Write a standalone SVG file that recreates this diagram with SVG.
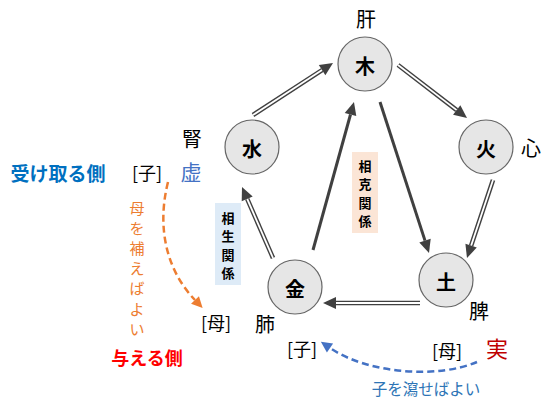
<svg xmlns="http://www.w3.org/2000/svg" width="541" height="403" viewBox="0 0 541 403">
<style>
text{font-family:"Noto Sans CJK JP","Noto Sans",sans-serif;text-anchor:middle;dominant-baseline:central}
.node circle{fill:#e6e6e6;stroke:#666;stroke-width:1.2}
.node text{font-size:20px;font-weight:bold;fill:#000}
.lbl{font-size:20px;fill:#000}
.br{font-size:18px;fill:#000}
.dblo{stroke:#404040;stroke-width:4.6;fill:none}
.dbli{stroke:#fff;stroke-width:1.8;fill:none}
.sol{stroke:#404040;stroke-width:3;fill:none}
.vt{font-size:13px;font-weight:bold;fill:#000}
</style>
<defs>
<marker id="ah" markerUnits="userSpaceOnUse" markerWidth="14" markerHeight="14" refX="0" refY="7" orient="auto" viewBox="0 0 14 14" overflow="visible"><path d="M0,1 L13,7 L0,13 z" fill="#404040"/></marker>
<marker id="ahO" markerUnits="userSpaceOnUse" markerWidth="12" markerHeight="12" refX="0" refY="6" orient="auto" viewBox="0 0 12 12" overflow="visible"><path d="M0,0.5 L11,6 L0,11.5 z" fill="#ed7d31"/></marker>
<marker id="ahB" markerUnits="userSpaceOnUse" markerWidth="12" markerHeight="12" refX="0" refY="6" orient="auto" viewBox="0 0 12 12" overflow="visible"><path d="M0,0.5 L11,6 L0,11.5 z" fill="#4472c4"/></marker>
</defs>

<g id="connectors">
  <path class="dblo" d="M253,115 L322.1,70.1"/><path class="dbli" d="M253,115 L322.1,70.1" marker-end="url(#ah)"/>
  <path class="dblo" d="M398,65 L456.7,110.1"/><path class="dbli" d="M398,65 L456.7,110.1" marker-end="url(#ah)"/>
  <path class="dblo" d="M493,180 L471.1,245.7"/><path class="dbli" d="M493,180 L471.1,245.7" marker-end="url(#ah)"/>
  <path class="dblo" d="M420,303 L336,303"/><path class="dbli" d="M420,303 L336,303" marker-end="url(#ah)"/>
  <path class="dblo" d="M273,258 L247.2,198.9"/><path class="dbli" d="M273,258 L247.2,198.9" marker-end="url(#ah)"/>
  <path class="sol" d="M313,250 L350.5,114.5" marker-end="url(#ah)"/>
  <path class="sol" d="M380,102 L425,240.6" marker-end="url(#ah)"/>
  <path d="M168,182 C156,230 168,272 195,300" fill="none" stroke="#ed7d31" stroke-width="2.5" stroke-dasharray="7,4" marker-end="url(#ahO)"/>
  <path d="M477,362 C440,378 370,375 330,348" fill="none" stroke="#4472c4" stroke-width="2.5" stroke-dasharray="7,4" marker-end="url(#ahB)"/>
</g>

<g id="node-wood" class="node"><circle cx="365" cy="64" r="27"/><text x="365" y="65">木</text></g>
<g id="node-fire" class="node"><circle cx="486" cy="147" r="27"/><text x="486" y="148">火</text></g>
<g id="node-earth" class="node"><circle cx="446" cy="280" r="27"/><text x="446" y="281">土</text></g>
<g id="node-metal" class="node"><circle cx="295" cy="287" r="27"/><text x="295" y="288">金</text></g>
<g id="node-water" class="node"><circle cx="252" cy="147" r="27"/><text x="252" y="148">水</text></g>

<g id="label-sousei">
  <rect x="215" y="203" width="26" height="82" fill="#deebf7"/>
  <text class="vt" x="228" y="217">相</text>
  <text class="vt" x="228" y="235">生</text>
  <text class="vt" x="228" y="254">関</text>
  <text class="vt" x="228" y="272">係</text>
</g>
<g id="label-soukoku">
  <rect x="352" y="152" width="26" height="81" fill="#fbe5d6"/>
  <text class="vt" x="365" y="165">相</text>
  <text class="vt" x="365" y="183">克</text>
  <text class="vt" x="365" y="202">関</text>
  <text class="vt" x="365" y="220">係</text>
</g>

<g id="organs">
  <text class="lbl" x="366" y="18">肝</text>
  <text class="lbl" x="531" y="147">心</text>
  <text class="lbl" x="479" y="310">脾</text>
  <text class="lbl" x="265" y="323">肺</text>
  <text class="lbl" x="192" y="138">腎</text>
</g>

<g id="annotations">
  <text x="58" y="172" font-size="19" font-weight="bold" fill="#0070c0">受け取る側</text>
  <text class="br" x="147" y="172">[子]</text>
  <text x="191" y="171" font-size="21" fill="#4472c4">虚</text>
  <text x="137" y="207" font-size="15" fill="#ed7d31">母</text>
  <text x="137" y="227" font-size="15" fill="#ed7d31">を</text>
  <text x="137" y="247" font-size="15" fill="#ed7d31">補</text>
  <text x="137" y="267" font-size="15" fill="#ed7d31">え</text>
  <text x="137" y="287" font-size="15" fill="#ed7d31">ば</text>
  <text x="137" y="308" font-size="15" fill="#ed7d31">よ</text>
  <text x="137" y="328" font-size="15" fill="#ed7d31">い</text>
  <text class="br" x="216" y="322">[母]</text>
  <text x="147" y="357" font-size="18" font-weight="bold" fill="#ff0000">与える側</text>
  <text class="br" x="302" y="348">[子]</text>
  <text class="br" x="447" y="350">[母]</text>
  <text x="497" y="347" font-size="22" fill="#c00000">実</text>
  <text x="426" y="388" font-size="15.5" fill="#2e75b6">子を瀉せばよい</text>
</g>
</svg>
